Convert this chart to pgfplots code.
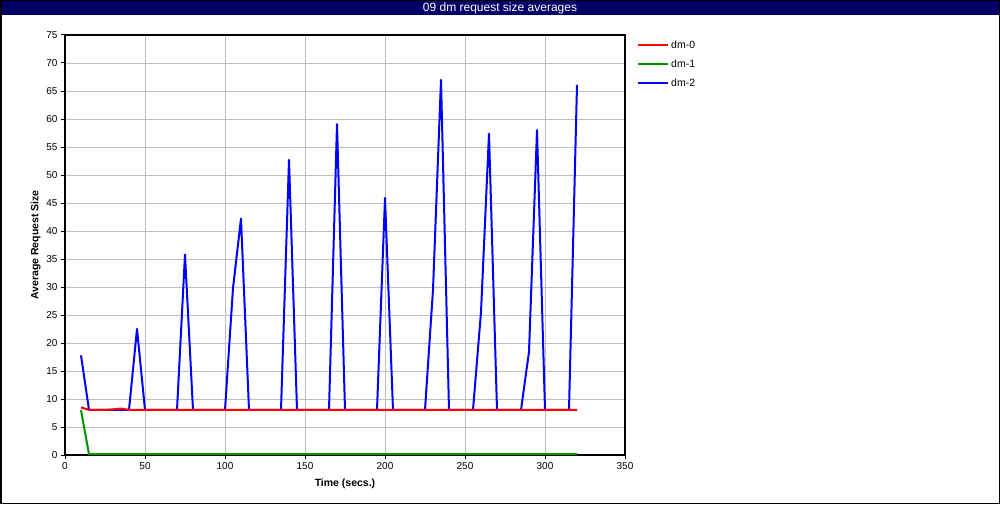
\documentclass[border=0pt]{standalone}
\usepackage{fontspec}
\setmainfont{Liberation Sans}
\usepackage{pgfplots}
\pgfplotsset{compat=1.18}
\definecolor{navybar}{RGB}{0,0,102}
\definecolor{gridgray}{RGB}{190,190,190}
\definecolor{dred}{RGB}{255,0,0}
\definecolor{dgreen}{RGB}{0,150,0}
\definecolor{dblue}{RGB}{0,0,255}
\begin{document}
\begin{tikzpicture}
\useasboundingbox (0pt,0pt) rectangle (1000pt,504pt);
\fill[white] (0pt,0pt) rectangle (1000pt,504pt);
\fill[navybar] (0pt,489pt) rectangle (1000pt,504pt);
\draw[black, line width=1.5pt] (0.75pt,0.75pt) rectangle (999.25pt,503.25pt);
\node[white, font=\fontsize{12}{13}\selectfont] at (500pt,496pt) {09 dm request size averages};
\begin{axis}[
 at={(65pt,49pt)}, anchor=south west, scale only axis, width=560pt, height=420pt,
 xmin=0, xmax=350, ymin=0, ymax=75,
 xtick={0,50,...,350}, ytick={0,5,...,75},
 grid=major, major grid style={gridgray, line width=0.8pt},
 axis line style={black, line width=1.2pt},
 tick style={black, line width=1pt},
 tick align=outside, tick pos=left, major tick length=4pt,
 ticklabel style={font=\fontsize{10}{11}\selectfont},
 /pgf/number format/assume math mode=true,
 xlabel={Time (secs.)}, ylabel={Average Request Size},
 label style={font=\fontsize{10.5}{12}\selectfont\bfseries},
 xlabel style={yshift=-2pt}, ylabel style={yshift=-1pt},
 legend style={at={(axis description cs:1,1)}, anchor=north west, xshift=9pt, yshift=-1.5pt,
   draw=none, fill=none, font=\fontsize{10.5}{11}\selectfont, row sep=6pt},
 legend cell align=left,
 legend image code/.code={\draw[#1, line width=2pt] (0pt,0pt) -- (30pt,0pt);},
 reverse legend,
 every axis plot/.append style={line width=2pt, line join=round},
]
\addplot[dblue] coordinates {
(10,17.8)(15,8.05)(20,8.05)(25,8.05)(30,8.05)(35,8.05)(40,8.05)(45,22.5)(50,8.05)
(55,8.05)(60,8.05)(65,8.05)(70,8.05)(75,35.8)(80,8.05)(85,8.05)(90,8.05)(95,8.05)
(100,8.05)(105,29.8)(110,42.2)(115,8.05)(120,8.05)(125,8.05)(130,8.05)(135,8.05)
(140,52.7)(145,8.05)(150,8.05)(155,8.05)(160,8.05)(165,8.05)(170,59.1)(175,8.05)
(180,8.05)(185,8.05)(190,8.05)(195,8.05)(200,45.9)(205,8.05)(210,8.05)(215,8.05)
(220,8.05)(225,8.05)(230,29.5)(235,67.0)(240,8.05)(245,8.05)(250,8.05)(255,8.05)
(260,25.5)(265,57.4)(270,8.05)(275,8.05)(280,8.05)(285,8.05)(290,18.4)(295,58.0)
(300,8.05)(305,8.05)(310,8.05)(315,8.05)(320,66.1)
};
\addlegendentry{dm-2}
\addplot[dgreen] coordinates {
(10,8.0)(15,0.15)(20,0.15)(25,0.15)(30,0.15)(35,0.15)(40,0.15)(45,0.15)(50,0.15)
(60,0.15)(80,0.15)(100,0.15)(120,0.15)(140,0.15)(160,0.15)(180,0.15)(200,0.15)
(220,0.15)(240,0.15)(260,0.15)(280,0.15)(300,0.15)(320,0.15)
};
\addlegendentry{dm-1}
\addplot[dred] coordinates {
(10,8.5)(15,8.05)(20,8.05)(25,8.05)(30,8.15)(35,8.3)(40,8.05)(45,8.05)(50,8.05)
(60,8.05)(80,8.05)(100,8.05)(120,8.05)(140,8.05)(160,8.05)(180,8.05)(200,8.05)
(220,8.05)(240,8.05)(260,8.05)(280,8.05)(300,8.05)(320,8.05)
};
\addlegendentry{dm-0}
\end{axis}
\end{tikzpicture}
\end{document}
